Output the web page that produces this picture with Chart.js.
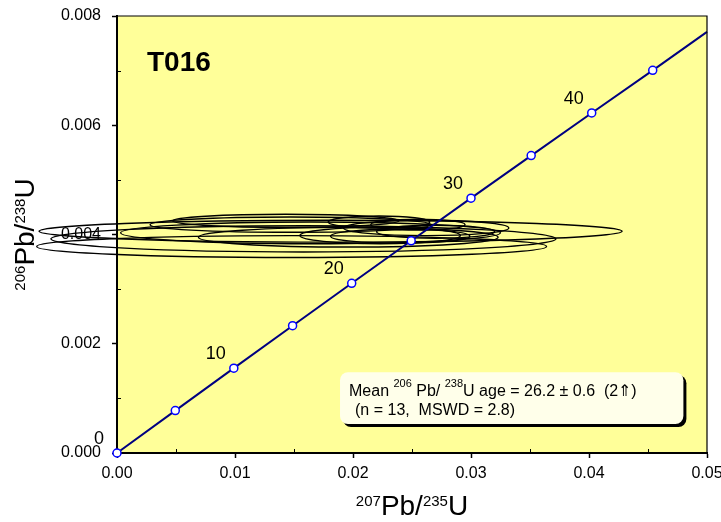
<!DOCTYPE html>
<html>
<head>
<meta charset="utf-8">
<script src="https://cdn.jsdelivr.net/npm/chart.js@4/dist/chart.umd.min.js"></script>
<style>
  body { margin: 0; background: #fff; }
  canvas { display: block; }
</style>
</head>
<body>
<canvas id="concordia" width="721" height="522"></canvas>
<script>
// concordia curve, ages in Ma
const ages = [0, 5, 10, 15, 20, 25, 30, 35, 40, 45];
const concX = [0, 0.00494, 0.00990, 0.01488, 0.01989, 0.02493, 0.03000, 0.03510, 0.04023, 0.04540];
const concY = [0, 0.000776, 0.001553, 0.002330, 0.003107, 0.003885, 0.004665, 0.005444, 0.006225, 0.007005];
const curveEnd = [0.0500, 0.00771];
const labelledAges = [0, 10, 20, 30, 40];

// error ellipses (centre and half widths)
const ellX  = [0.0181, 0.0158, 0.0148, 0.0164, 0.0147, 0.0143, 0.0196, 0.0223, 0.0222, 0.0240, 0.0262, 0.0255, 0.0270];
const ellY  = [0.00406, 0.00392, 0.00378, 0.00403, 0.00418, 0.00425, 0.00395, 0.00398, 0.00423, 0.00397, 0.00412, 0.00418, 0.00405];
const ellRx = [0.0247, 0.0214, 0.0216, 0.0161, 0.0119, 0.0096, 0.0127, 0.0068, 0.0043, 0.0059, 0.0070, 0.0040, 0.0050];
const ellRy = [0.00020, 0.00024, 0.00020, 0.00020, 0.00014, 0.00012, 0.00018, 0.00015, 0.00011, 0.00013, 0.00014, 0.00010, 0.00012];

// axis ticks
const xTicks = [0, 0.01, 0.02, 0.03, 0.04, 0.05];
const yTicks = [0, 0.002, 0.004, 0.006, 0.008];

const sampleName = "T016";
const resultLine1 = ["Mean ", "206", " Pb/ ", "238", "U age = 26.2 ± 0.6  (2⇑)"];
const resultLine2 = "(n = 13,  MSWD = 2.8)";

const FONT = '"Liberation Sans", Arial, sans-serif';

const points = concX.map((x, i) => ({ x: x, y: concY[i] }));
points.push({ x: curveEnd[0], y: curveEnd[1] });

// draws text pieces, odd pieces raised as superscripts
const drawSupText = (ctx, parts, x, y, big, small, raise, align) => {
    let widths = parts.map((p, i) => {
        ctx.font = (i % 2 ? small : big) + "px " + FONT;
        return ctx.measureText(p).width;
    });
    let total = widths.reduce((a, b) => a + b, 0);
    let cx = align === "center" ? x - total / 2 : x;
    parts.forEach((p, i) => {
        ctx.font = (i % 2 ? small : big) + "px " + FONT;
        ctx.fillText(p, cx, i % 2 ? y - raise : y);
        cx += widths[i];
    });
};

const extras = {
    id: "extras",
    beforeDraw(chart) {
        const { ctx, chartArea: a } = chart;
        ctx.save();
        ctx.fillStyle = "#FFFF99";
        ctx.fillRect(a.left, a.top, a.right - a.left, a.bottom - a.top);
        ctx.restore();
    },
    beforeDatasetsDraw(chart) {
        const { ctx, scales: { x, y } } = chart;
        ctx.save();
        ctx.strokeStyle = "#000";
        ctx.lineWidth = 1.4;
        ellX.forEach((ex, i) => {
            const px = x.getPixelForValue(ex);
            const py = y.getPixelForValue(ellY[i]);
            const rx = x.getPixelForValue(ex + ellRx[i]) - px;
            const ry = py - y.getPixelForValue(ellY[i] + ellRy[i]);
            ctx.beginPath();
            ctx.ellipse(px, py, rx, ry, 0, 0, Math.PI * 2);
            ctx.stroke();
        });
        ctx.restore();
    },
    afterDatasetsDraw(chart) {
        const { ctx, chartArea: a, scales: { x, y } } = chart;
        ctx.save();

        // top and right frame
        ctx.strokeStyle = "#000";
        ctx.lineWidth = 1.2;
        ctx.beginPath();
        ctx.moveTo(a.left, a.top);
        ctx.lineTo(a.right, a.top);
        ctx.lineTo(a.right, a.bottom);
        ctx.stroke();

        // minor ticks, inside
        ctx.lineWidth = 1;
        for (let v = 0.005; v < 0.05; v += 0.01) {
            const px = Math.round(x.getPixelForValue(v)) + 0.5;
            ctx.beginPath();
            ctx.moveTo(px, a.bottom);
            ctx.lineTo(px, a.bottom - 4);
            ctx.stroke();
        }
        for (let v = 0.001; v < 0.008; v += 0.002) {
            const py = Math.round(y.getPixelForValue(v)) + 0.5;
            ctx.beginPath();
            ctx.moveTo(a.left, py);
            ctx.lineTo(a.left + 4, py);
            ctx.stroke();
        }

        // age labels
        ctx.fillStyle = "#000";
        ctx.font = "18px " + FONT;
        ctx.textAlign = "center";
        ctx.textBaseline = "middle";
        labelledAges.forEach((age) => {
            const i = ages.indexOf(age);
            const px = x.getPixelForValue(concX[i]);
            const py = y.getPixelForValue(concY[i]);
            ctx.fillText(String(age), px - 18, py - 14);
        });

        // sample name
        ctx.textAlign = "left";
        ctx.textBaseline = "alphabetic";
        ctx.font = "bold 28px " + FONT;
        ctx.fillText(sampleName, a.left + 30, a.top + 55);

        // result box
        const bx0 = x.getPixelForValue(0.0189), by0 = y.getPixelForValue(0.00148);
        const bx1 = x.getPixelForValue(0.0480), by1 = y.getPixelForValue(0.00053);
        ctx.fillStyle = "#000";
        ctx.beginPath();
        ctx.roundRect(bx0 + 3, by0 + 3, bx1 - bx0, by1 - by0, 8);
        ctx.fill();
        ctx.fillStyle = "#FFFFEA";
        ctx.beginPath();
        ctx.roundRect(bx0, by0, bx1 - bx0, by1 - by0, 8);
        ctx.fill();
        ctx.fillStyle = "#000";
        drawSupText(ctx, resultLine1, bx0 + 9, by0 + 24, 16, 11, 9, "left");
        ctx.font = "16px " + FONT;
        ctx.fillText(resultLine2, bx0 + 15, by0 + 43);

        // axis titles
        const midX = (a.left + a.right) / 2;
        drawSupText(ctx, ["", "207", "Pb/", "235", "U"], midX, 515, 28, 15, 9, "center");
        const midY = (a.top + a.bottom) / 2;
        ctx.translate(34, midY);
        ctx.rotate(-Math.PI / 2);
        drawSupText(ctx, ["", "206", "Pb/", "238", "U"], 0, 0, 28, 15, 9, "center");

        ctx.restore();
    }
};

const context = document.getElementById("concordia").getContext("2d");
const concordiaChart = new Chart(context, {
    type: "scatter",
    data: {
        datasets: [{
            data: points,
            showLine: true,
            borderColor: "#000080",
            borderWidth: 2,
            pointRadius: (c) => c.dataIndex < ages.length ? 4 : 0,
            pointBackgroundColor: "#fff",
            pointBorderColor: "#0000FF",
            pointBorderWidth: 1.5,
            clip: false,
        }]
    },
    options: {
        responsive: false,
        animation: false,
        layout: { padding: { top: 16, right: 14, left: 0, bottom: 0 } },
        plugins: {
            legend: { display: false },
            tooltip: { enabled: false },
        },
        scales: {
            x: {
                type: "linear",
                min: 0,
                max: 0.05,
                afterBuildTicks: (s) => { s.ticks = xTicks.map((v) => ({ value: v })); },
                ticks: {
                    callback: (v) => Number(v).toFixed(2),
                    color: "#000",
                    font: { family: FONT, size: 16 },
                    padding: 6,
                    maxRotation: 0,
                },
                grid: { drawOnChartArea: false, tickLength: 5, tickColor: "#000", tickWidth: 1.5 },
                border: { color: "#000", width: 2 },
                afterFit: (s) => { s.height = 69; s.paddingLeft = 0; s.paddingRight = 0; },
            },
            y: {
                type: "linear",
                min: 0,
                max: 0.008,
                afterBuildTicks: (s) => { s.ticks = yTicks.map((v) => ({ value: v })); },
                ticks: {
                    callback: (v) => Number(v).toFixed(3),
                    color: "#000",
                    font: { family: FONT, size: 16 },
                    padding: 11,
                },
                grid: { drawOnChartArea: false, tickLength: 5, tickColor: "#000", tickWidth: 1.5 },
                border: { color: "#000", width: 2 },
                afterFit: (s) => { s.width = 117; s.paddingTop = 0; s.paddingBottom = 0; },
            }
        }
    },
    plugins: [extras]
});
</script>
</body>
</html>
